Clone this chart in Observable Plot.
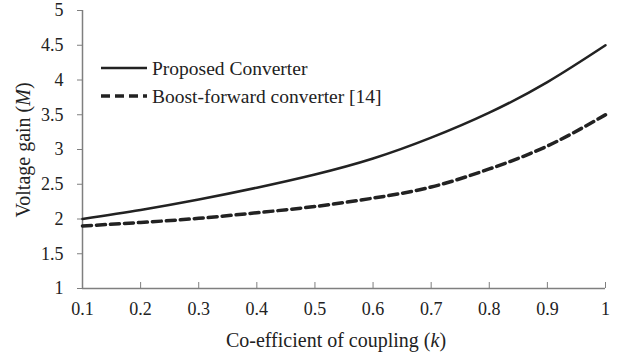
<!DOCTYPE html>
<html>
<head>
<meta charset="utf-8">
<script src="https://cdn.jsdelivr.net/npm/d3@7"></script>
<script src="https://cdn.jsdelivr.net/npm/@observablehq/plot@0.6"></script>
<style>
  html, body { margin: 0; padding: 0; background: #fff; }
  #chart svg { display: block; }
  #chart svg text { font-family: 'Liberation Serif', 'Times New Roman', serif !important; }
</style>
</head>
<body>
<div id="chart"></div>
<script>
// Coupling coefficient k
const coupling = [0.1, 0.2, 0.3, 0.4, 0.5, 0.6, 0.7, 0.8, 0.9, 1.0];
// Voltage gain M of each converter
const proposedGain = [2.0, 2.13, 2.28, 2.45, 2.64, 2.87, 3.17, 3.53, 3.97, 4.5];
const boostForwardGain = [1.9, 1.95, 2.01, 2.09, 2.18, 2.30, 2.46, 2.72, 3.05, 3.5];
const xTicks = [0.1, 0.2, 0.3, 0.4, 0.5, 0.6, 0.7, 0.8, 0.9, 1];
const yTicks = [1, 1.5, 2, 2.5, 3, 3.5, 4, 4.5, 5];

const proposed = coupling.map((k, i) => ({k, M: proposedGain[i]}));
const boost = coupling.map((k, i) => ({k, M: boostForwardGain[i]}));

const font = "'Liberation Serif', 'Times New Roman', serif";
const axisColor = "#7f7f7f";
const inkColor = "#222";
const tickFont = 18;
const titleFont = 20;
const legendFont = 19.5;

const plot = Plot.plot({
  width: 621,
  height: 360,
  marginLeft: 82,
  marginRight: 16,
  marginTop: 10,
  marginBottom: 72,
  style: {fontFamily: font, fontSize: "18px", color: inkColor, background: "#fff"},
  x: {domain: [0.1, 1], label: null},
  y: {domain: [1, 5], label: null},
  marks: [
    Plot.axisY({ticks: yTicks, tickSize: 5, tickPadding: 14, stroke: axisColor, tickFormat: d => String(d),
                fill: inkColor, fontFamily: font, fontSize: tickFont}),
    Plot.axisX({ticks: xTicks, tickSize: -6, tickPadding: 20, stroke: axisColor, tickFormat: d => String(d),
                fill: inkColor, fontFamily: font, fontSize: tickFont}),
    Plot.ruleX([0.1], {stroke: axisColor, strokeWidth: 1.5}),
    Plot.ruleY([1], {stroke: axisColor, strokeWidth: 1.5}),
    Plot.line(proposed, {x: "k", y: "M", curve: "natural", stroke: inkColor, strokeWidth: 2.5}),
    Plot.line(boost, {x: "k", y: "M", curve: "natural", stroke: inkColor, strokeWidth: 3.5, strokeDasharray: "9,5"})
  ]
});

const svg = d3.select(plot);

// Axis titles with italic symbols
const xTitle = svg.append("text")
  .attr("x", 336).attr("y", 347)
  .attr("text-anchor", "middle")
  .style("font-size", titleFont + "px").attr("fill", inkColor);
xTitle.append("tspan").text("Co-efficient of coupling (");
xTitle.append("tspan").style("font-style", "italic").text("k");
xTitle.append("tspan").text(")");

const yTitle = svg.append("text")
  .attr("transform", "translate(30,150) rotate(-90)")
  .attr("text-anchor", "middle")
  .style("font-size", titleFont + "px").attr("fill", inkColor);
yTitle.append("tspan").text("Voltage gain (");
yTitle.append("tspan").style("font-style", "italic").text("M");
yTitle.append("tspan").text(")");

// Legend
const legend = [
  {label: "Proposed Converter", width: 2.5, dash: null, y: 68},
  {label: "Boost-forward converter [14]", width: 3.5, dash: "9,5", y: 96}
];
const lg = svg.append("g");
legend.forEach(d => {
  lg.append("line")
    .attr("x1", 101).attr("x2", 147).attr("y1", d.y).attr("y2", d.y)
    .attr("stroke", inkColor).attr("stroke-width", d.width)
    .attr("stroke-dasharray", d.dash);
  lg.append("text")
    .attr("x", 152).attr("y", d.y).attr("dy", "0.34em")
    .attr("text-anchor", "start")
    .style("font-size", legendFont + "px").attr("fill", inkColor)
    .text(d.label);
});

document.getElementById("chart").appendChild(plot);
</script>
</body>
</html>
